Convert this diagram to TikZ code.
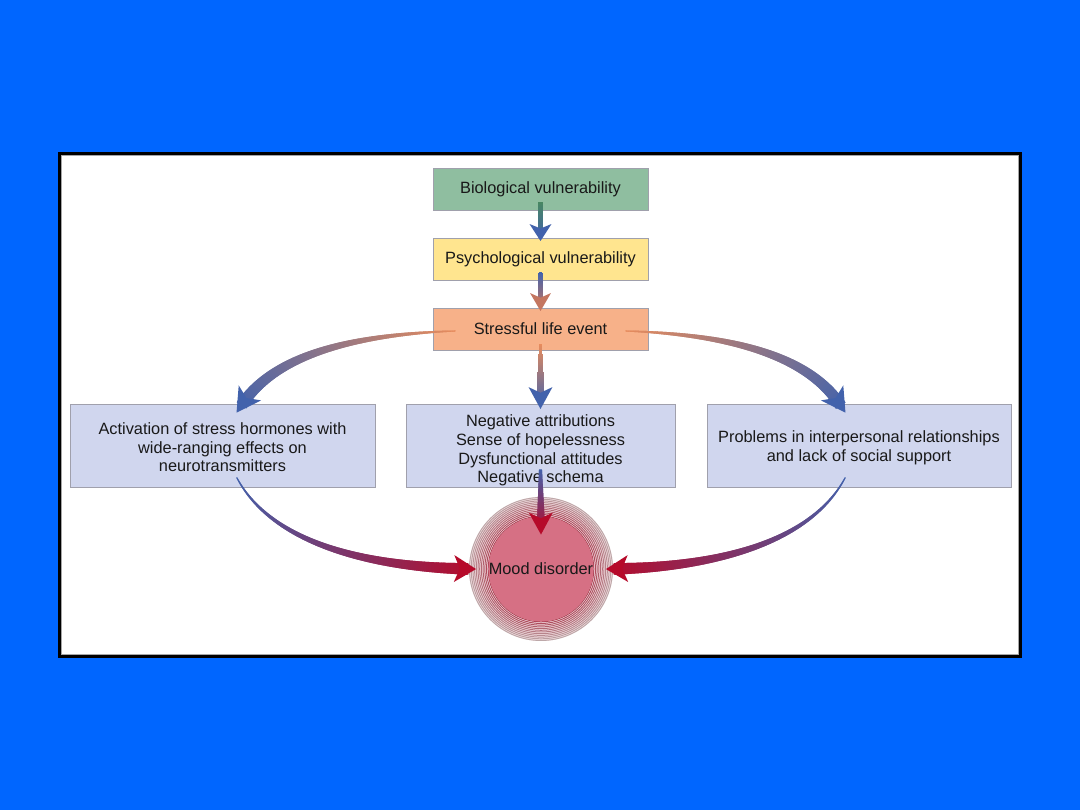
\documentclass[tikz,border=0pt]{standalone}
\usepackage{fontspec}
\setmainfont{Liberation Sans}
\usetikzlibrary{decorations.markings,calc}
\definecolor{bgblue}{RGB}{0,102,255}
\definecolor{biog}{RGB}{143,190,160}
\definecolor{psyy}{RGB}{255,229,143}
\definecolor{strs}{RGB}{247,177,137}
\definecolor{lav}{RGB}{208,214,238}
\definecolor{boxln}{RGB}{160,160,172}
\definecolor{moodp}{RGB}{214,112,132}
\definecolor{ringr}{RGB}{165,25,50}
\definecolor{ringg}{RGB}{190,175,175}
\definecolor{ag}{RGB}{72,135,98}
\definecolor{ab}{RGB}{66,98,172}
\definecolor{ao}{RGB}{232,140,92}
\definecolor{abr}{RGB}{196,118,96}
\definecolor{ar}{RGB}{182,10,42}
\definecolor{txt}{RGB}{25,25,25}
\newcommand\lowr[2]{\raisebox{-#1}[\height][\depth]{#2}}
\tikzset{
  x=0.02cm, y=-0.02cm,
  box/.style={draw=boxln, line width=0.5pt, inner sep=0pt, outer sep=0pt, text=txt,
    align=center, font=\fontsize{9.3}{10.6}\selectfont},
  % #1 start colour, #2 end colour, #3 start width px, #4 end width px,
  % #5 head width px, #6 head length px, #7 body stop (pt, number)
  taper/.style n args={7}{
    postaction={decorate, decoration={markings,
    mark=between positions 0 and -#7pt step 0.4pt with {%
      \pgfmathsetmacro\tpos{\pgfkeysvalueof{/pgf/decoration/mark info/distance from start}/\pgfdecoratedpathlength}%
      \pgfmathsetmacro\tw{(#3+(#4-#3)*\tpos)*0.2835}%
      \pgfmathtruncatemacro\tpc{100*(1-\tpos)}%
      \fill[#1!\tpc!#2] (-0.4pt,-\tw pt) rectangle (0.4pt,\tw pt);}}},
    postaction={decorate, decoration={markings,
    mark=at position -#7pt with {%
      \pgfmathsetmacro\htip{#7}\pgfmathsetmacro\hback{#7-#6*0.567}%
      \pgfmathsetmacro\hw{#5*0.2835}\pgfmathsetmacro\hn{#7-#6*0.42}%
      \fill[#2] (\htip pt,0) -- (\hback pt,\hw pt) -- (\hn pt,0) -- (\hback pt,-\hw pt) -- cycle;}}}
  }
}
\begin{document}
\begin{tikzpicture}
\useasboundingbox (0,0) rectangle (1080,810);
\fill[bgblue] (0,0) rectangle (1080,810);
\fill[white] (59,153) rectangle (1021,657);
\draw[black, line width=1.2pt] (59.5,153.5) rectangle (1020.5,656.5);
\draw[gray!70, line width=0.4pt] (61.5,155.5) rectangle (1018.5,654.5);

% nodes
\node[box, fill=biog, minimum width=4.3cm, minimum height=0.84cm] (bio) at (540.5,189) {Biological vulnerability};
\node[box, fill=psyy, minimum width=4.3cm, minimum height=0.84cm] (psych) at (540.5,259) {Psychological vulnerability};
\node[box, fill=strs, minimum width=4.3cm, minimum height=0.84cm] (stress) at (540.5,329) {Stressful life event};
\node[box, fill=lav, minimum width=6.1cm, minimum height=1.66cm] (left) at (222.5,445.5)
  {\lowr{0.04cm}{\parbox{6cm}{\centering Activation of stress hormones with\\wide-ranging effects on\\neurotransmitters}}};
\node[box, fill=lav, minimum width=5.38cm, minimum height=1.66cm] (mid) at (540.5,445.5)
  {\lowr{0.1cm}{\parbox{5cm}{\centering Negative attributions\\Sense of hopelessness\\Dysfunctional attitudes\\Negative schema}}};
\node[box, fill=lav, minimum width=6.08cm, minimum height=1.66cm] (right) at (859,445.5)
  {\lowr{0.04cm}{\parbox{6cm}{\centering Problems in interpersonal relationships\\and lack of social support}}};

% halo rings
\node[circle, minimum size=2.88cm, inner sep=0pt, outer sep=0pt] (halo) at (541,569) {};
\fill[moodp!22] (halo.center) circle[radius=72];
\foreach \r in {37.5,39.2,...,72.2}{
  \pgfmathtruncatemacro\pc{min(100,125*(73-\r)/35)}
  \draw[ringr!\pc!ringg, line width=0.55pt] (halo.center) circle[radius=\r];
}
\node[circle, fill=moodp, minimum size=1.48cm, inner sep=0pt, outer sep=0pt, text=txt,
  font=\fontsize{9.3}{10.6}\selectfont] (mood) at (541,569) {Mood disorder};

% connectors
\path[taper={ag}{ab}{5}{6}{22}{17}{4}] ($(bio.south)+(0,-7)$) -- ($(psych.north)+(0,3)$);
\path[taper={ab}{abr}{4}{6}{21}{18}{4.5}] ($(psych.south)+(0,-7)$) -- ($(stress.north)+(0,3)$);
\path[taper={ao}{ab}{3}{10}{24}{22}{5.5}] ($(stress.south)+(0,-5)$) -- ($(mid.north)+(0,5)$);
\path[taper={ao}{ab}{1}{12}{27}{24}{6}] ($(stress.west)+(22,2)$) .. controls (340,335) and (265,360) .. ($(left.north)+(14.5,9)$);
\path[taper={ao}{ab}{1}{12}{27}{24}{6}] ($(stress.east)+(-22,2)$) .. controls (742,335) and (817,360) .. ($(right.north)+(-14,9)$);
\path[taper={ab}{ar}{1}{12}{27}{22}{5.5}] ($(left.south)+(14.5,-9)$) .. controls (270,540) and (360,568) .. ($(halo.west)+(7,0)$);
\path[taper={ab}{ar}{1}{12}{27}{22}{5.5}] ($(right.south)+(-14,-9)$) .. controls (812,540) and (722,568) .. ($(halo.east)+(-7,0)$);
\path[taper={ab}{ar}{3}{9}{24}{22}{5.5}] ($(mid.south)+(0,-17)$) -- ($(mood.north)+(0,18)$);
\end{tikzpicture}
\end{document}
